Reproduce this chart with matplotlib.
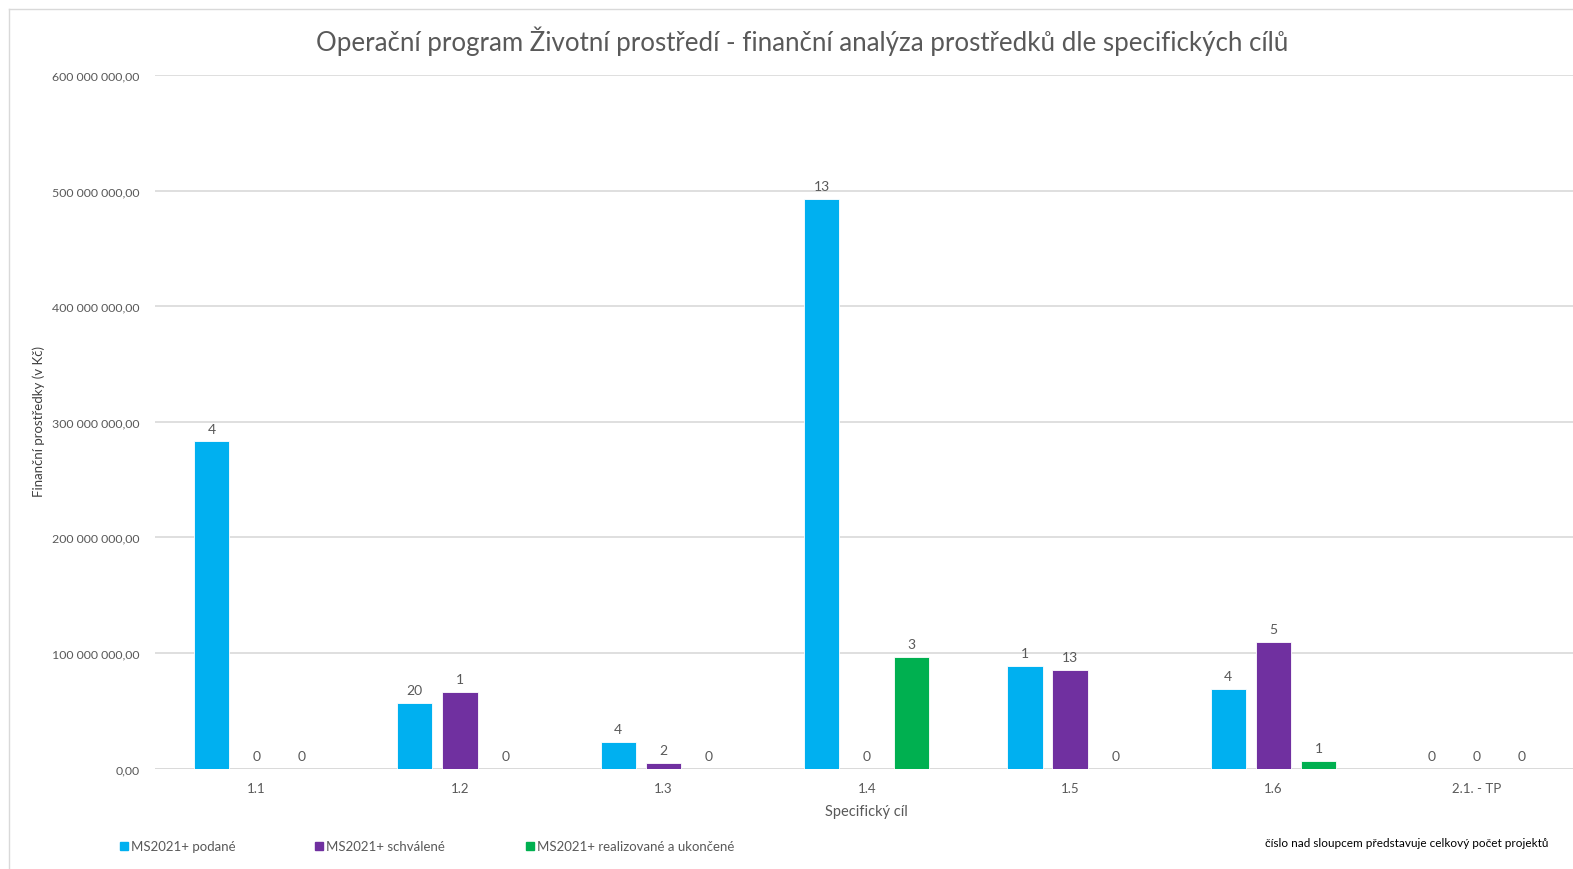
import matplotlib
matplotlib.use('Agg')
import matplotlib.pyplot as plt
from matplotlib.ticker import FuncFormatter
from matplotlib.lines import Line2D
import numpy as np

plt.rcParams['font.family'] = ['Lato', 'DejaVu Sans']

# ── data ──
categories = ['1.1', '1.2', '1.3', '1.4', '1.5', '1.6', '2.1. - TP']
podane = [283e6, 56.4e6, 22.6e6, 493e6, 88.5e6, 68.6e6, 0]
schvalene = [0, 66e6, 5.2e6, 0, 85e6, 109.4e6, 0]
realizovane = [0, 0, 0, 96.4e6, 0, 6.9e6, 0]
podane_n = [4, 20, 4, 13, 1, 4, 0]
schvalene_n = [0, 1, 2, 0, 13, 5, 0]
realizovane_n = [0, 0, 0, 3, 0, 1, 0]

series = [
    ('MS2021+ podané', podane, podane_n, '#00B0F0'),
    ('MS2021+ schválené', schvalene, schvalene_n, '#7030A0'),
    ('MS2021+ realizované a ukončené', realizovane, realizovane_n, '#00B050'),
]

TXT = '#595959'
GRID = '#d9d9d9'

fig = plt.figure(figsize=(15.73, 8.70), dpi=100)
ax = fig.add_axes([0.0985, 0.1155, 0.905, 0.797])

x = np.arange(len(categories))
w = 0.173
step = 0.222
for i, (name, vals, counts, col) in enumerate(series):
    pos = x + (i - 1) * step
    ax.bar(pos, vals, w, color=col, edgecolor='white', linewidth=0.6, zorder=3)
    for px, v, n in zip(pos, vals, counts):
        ax.text(px, v + 6e6, str(n), ha='center', va='bottom',
                fontsize=10, color=TXT, zorder=4)

ax.set_xlim(-0.5, len(categories) - 0.5)
ax.set_ylim(0, 600e6)
ax.set_yticks(np.arange(0, 600e6 + 1, 100e6))
ax.yaxis.set_major_formatter(FuncFormatter(
    lambda v, p: f'{v:,.2f}'.replace(',', ' ').replace('.', ',')))
ax.set_xticks(x)
ax.set_xticklabels(categories)
ax.tick_params(axis='both', length=0, labelsize=9.5, colors=TXT)
ax.tick_params(axis='y', labelsize=8.9, pad=11)
ax.tick_params(axis='x', pad=10)
ax.grid(axis='y', color=GRID, linewidth=1.2, zorder=0)
for s in ax.spines.values():
    s.set_visible(False)
ax.axhline(0, color=GRID, linewidth=1.2, zorder=2)

ax.set_xlabel('Specifický cíl', fontsize=10.5, color=TXT, labelpad=7)
fig.text(0.0245, 0.515, 'Finanční prostředky (v Kč)', rotation=90,
         ha='center', va='center', fontsize=9.5, color='#404040')

fig.text(0.51, 0.953, 'Operační program Životní prostředí - finanční analýza prostředků dle specifických cílů',
         ha='center', va='center', fontsize=18.6, color=TXT)

# legend
leg_x = [0.079, 0.203, 0.337]
for lx, (name, vals, counts, col) in zip(leg_x, series):
    fig.add_artist(Line2D([lx], [0.026], marker='s', markersize=6, color=col,
                          linestyle='none', transform=fig.transFigure))
    fig.text(lx + 0.0045, 0.026, name, ha='left', va='center',
             fontsize=9.5, color=TXT)

fig.text(0.9845, 0.03, 'číslo nad sloupcem představuje celkový počet projektů',
         ha='right', va='center', fontsize=8.5, color='black')

# chart frame
fig.add_artist(Line2D([0.0057, 0.0057], [0, 0.9885], color='#d9d9d9',
                      linewidth=1, transform=fig.transFigure))
fig.add_artist(Line2D([0.0057, 1.0], [0.9885, 0.9885], color='#d9d9d9',
                      linewidth=1, transform=fig.transFigure))

fig.savefig('out.png', dpi=100, facecolor='white')
